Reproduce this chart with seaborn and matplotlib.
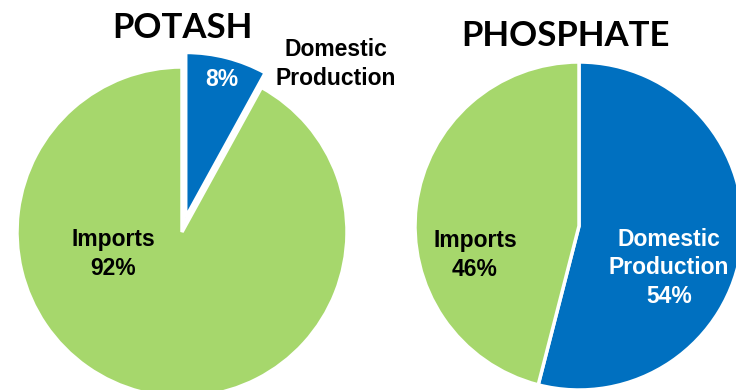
import matplotlib
matplotlib.use("Agg")
import matplotlib.pyplot as plt
import seaborn as sns

sns.set_style("white")
plt.rcParams['font.family'] = ['Liberation Sans', 'DejaVu Sans']

# Data
potash_labels = ["Domestic\nProduction", "Imports"]
potash_values = [8, 92]
phosphate_labels = ["Domestic\nProduction", "Imports"]
phosphate_values = [54, 46]
titles = ["POTASH", "PHOSPHATE"]

blue = "#0070C0"
green = "#A6D76C"
colors = [blue, green]

W, H = 736, 390
fig = plt.figure(figsize=(W / 100, H / 100), dpi=100)
ax = fig.add_axes([0, 0, 1, 1])

def Y(yp):
    return H - yp

wp = dict(edgecolor="white", linewidth=2.5)

# Potash pie
ax.pie(potash_values, colors=colors, startangle=90, counterclock=False,
       explode=[15, 0], center=(182, Y(232)), radius=165, wedgeprops=wp)
# Phosphate pie
ax.pie(phosphate_values, colors=colors, startangle=90, counterclock=False,
       center=(579, Y(226)), radius=164, wedgeprops=wp)

ax.set_xlim(0, W)
ax.set_ylim(0, H)
ax.set_aspect("equal")
ax.axis("off")

lab = dict(fontsize=16.5, fontweight="bold", ha="center", va="center",
           linespacing=1.32)

# Titles
tfont = dict(fontsize=25, fontweight="bold", ha="center", va="center",
             family=["Lato", "DejaVu Sans"], color="black")
ax.text(182, Y(28), titles[0], **tfont)
ax.text(566, Y(36), titles[1], **tfont)

# Potash labels
ax.text(336, Y(64), potash_labels[0], color="black", **lab)
ax.text(222, Y(80), f"{potash_values[0]}%", color="white", **lab)
ax.text(113, Y(254), f"{potash_labels[1]}\n{potash_values[1]}%", color="black", **lab)

# Phosphate labels
ax.text(475, Y(255), f"{phosphate_labels[1]}\n{phosphate_values[1]}%", color="black", **lab)
ax.text(669, Y(268), f"{phosphate_labels[0]}\n{phosphate_values[0]}%", color="white", **lab)

fig.savefig("out.png", dpi=100)
